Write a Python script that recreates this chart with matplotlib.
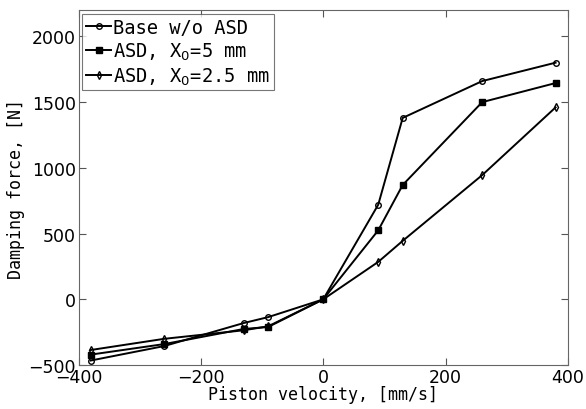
import matplotlib
matplotlib.use("Agg")
import matplotlib.pyplot as plt

velocity = [-380, -260, -130, -90, 0, 90, 130, 260, 380]
base = [-465, -355, -180, -135, 0, 720, 1380, 1660, 1800]
asd_5 = [-420, -340, -225, -210, 0, 525, 870, 1500, 1645]
asd_25 = [-385, -300, -235, -205, 0, 285, 445, 945, 1460]

labels = ["Base w/o ASD", r"ASD, X$_0$=5 mm", r"ASD, X$_0$=2.5 mm"]

fig = plt.figure(figsize=(5.86, 4.10), dpi=100)
ax = fig.add_axes([0.134, 0.107, 0.835, 0.866])

ax.plot(velocity, base, "k-o", ms=4, mfc="none", mew=1, lw=1.4, label=labels[0])
ax.plot(velocity, asd_5, "k-s", ms=4.5, lw=1.4, label=labels[1])
ax.plot(velocity, asd_25, "k-d", ms=4, mfc="none", mew=1, lw=1.4, label=labels[2])

ax.set_xlim(-400, 400)
ax.set_ylim(-500, 2200)
ax.set_xticks([-400, -200, 0, 200, 400])
ax.set_yticks([-500, 0, 500, 1000, 1500, 2000])
ax.tick_params(direction="in", top=True, right=True, labelsize=12.5, length=5,
               color="#555555", pad=2)
for s in ax.spines.values():
    s.set_color("#666666")

ax.set_xlabel("Piston velocity, [mm/s]", family="DejaVu Sans Mono", fontsize=12, labelpad=-1)
ax.set_ylabel("Damping force, [N]", family="DejaVu Sans Mono", fontsize=12, labelpad=2)

leg = ax.legend(loc="upper left", prop={"family": "DejaVu Sans Mono", "size": 13.5},
                fancybox=False, edgecolor="#555555", handlelength=1.35, handletextpad=0.1,
                borderpad=0.2, labelspacing=0.2, borderaxespad=0.2)
leg.get_frame().set_linewidth(0.8)

fig.savefig("out.png", dpi=100)
